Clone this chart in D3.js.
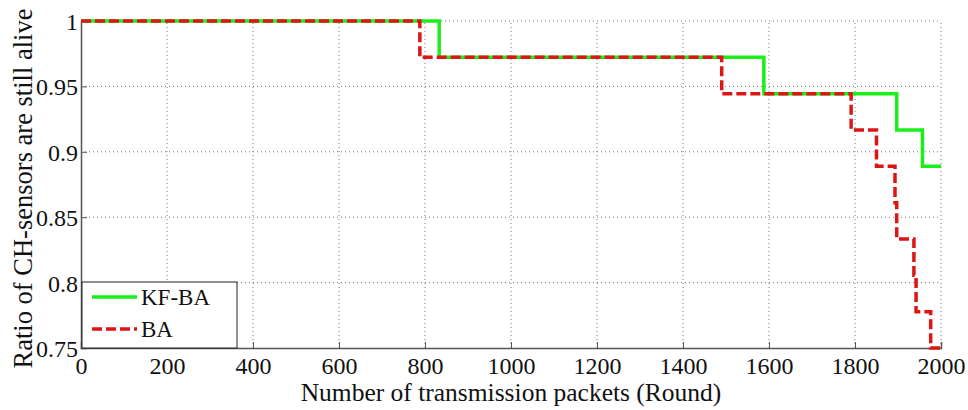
<!DOCTYPE html>
<html>
<head>
<meta charset="utf-8">
<script src="https://cdn.jsdelivr.net/npm/d3@7"></script>
<style>
	body { margin: 0; background: #fff; }
	svg { display: block; font-family: "Liberation Serif", "Times New Roman", serif; }
</style>
</head>
<body>
<svg id="chart"></svg>
<script>
// step changes: [round, ratio] (ratio = alive / 36)
const kfbaSteps = [ [0, 1], [833, 35/36], [1588, 34/36], [1897, 33/36], [1957, 32/36], [2000, 32/36] ] ;
const baSteps = [ [0, 1], [788, 35/36], [1490, 34/36], [1791, 33/36], [1850, 32/36], [1893, 31/36],
	[1897, 30/36], [1937, 29/36], [1942, 28/36], [1976, 27/36], [2000, 27/36] ] ;
const xTicks = [0, 200, 400, 600, 800, 1000, 1200, 1400, 1600, 1800, 2000] ;
const yTicks = [0.75, 0.8, 0.85, 0.9, 0.95, 1] ;
const seriesNames = ['KF-BA', 'BA'] ;

const geom = {
	width: 968,
	height: 410,
	margins: { left: 81, right: 27, top: 21, bottom: 62 }
} ;

const x = d3.scaleLinear()
	.domain([0, 2000])
	.range([geom.margins.left, geom.width - geom.margins.right]) ;
const y = d3.scaleLinear()
	.domain([0.75, 1])
	.range([geom.height - geom.margins.bottom, geom.margins.top]) ;

const svg = d3.select('#chart')
	.attr('width', geom.width)
	.attr('height', geom.height) ;

// grid
svg.selectAll('line.vgrid')
	.data(xTicks.slice(1))
	.enter()
	.append('line')
	.attr('class', 'vgrid')
	.attr('x1', d => x(d)).attr('x2', d => x(d))
	.attr('y1', y(0.75)).attr('y2', y(1))
	.attr('stroke', '#777')
	.attr('stroke-width', 1)
	.attr('stroke-dasharray', '1,3') ;

svg.selectAll('line.hgrid')
	.data(yTicks.slice(1))
	.enter()
	.append('line')
	.attr('class', 'hgrid')
	.attr('x1', x(0)).attr('x2', x(2000))
	.attr('y1', d => y(d)).attr('y2', d => y(d))
	.attr('stroke', '#777')
	.attr('stroke-width', 1)
	.attr('stroke-dasharray', '1,3') ;

// axes (ticks point inward)
const xAxis = svg.append('g')
	.attr('transform', 'translate(0,' + y(0.75) + ')')
	.call(d3.axisBottom(x).tickValues(xTicks).tickSize(-6).tickPadding(9).tickFormat(d3.format('d'))) ;
const yAxis = svg.append('g')
	.attr('transform', 'translate(' + x(0) + ',0)')
	.call(d3.axisLeft(y).tickValues(yTicks).tickSize(-6).tickPadding(3).tickFormat(d => String(d))) ;

[xAxis, yAxis].forEach(a => {
	a.select('.domain').attr('stroke', '#555').attr('stroke-width', 1.5) ;
	a.selectAll('.tick line').attr('stroke', '#555') ;
	a.selectAll('.tick text')
		.attr('fill', '#111')
		.attr('font-size', '24px')
		.attr('font-family', '"Liberation Serif", serif') ;
}) ;
xAxis.selectAll('.tick text').attr('dy', '0.72em') ;
yAxis.selectAll('.tick text').attr('dy', '0.35em') ;

// lines
const stepLine = d3.line()
	.x(d => x(d[0]))
	.y(d => y(d[1]))
	.curve(d3.curveStepAfter) ;

svg.append('path')
	.datum(kfbaSteps)
	.attr('fill', 'none')
	.attr('stroke', '#1aef1a')
	.attr('stroke-width', 3.5)
	.attr('d', stepLine) ;

svg.append('path')
	.datum(baSteps)
	.attr('fill', 'none')
	.attr('stroke', '#dc1515')
	.attr('stroke-width', 3.5)
	.attr('stroke-dasharray', '10,4')
	.attr('d', stepLine) ;

// legend
const legend = svg.append('g') ;
legend.append('rect')
	.attr('x', x(0) + 1)
	.attr('y', 282)
	.attr('width', 155)
	.attr('height', y(0.75) - 282)
	.attr('fill', '#fff')
	.attr('stroke', '#222')
	.attr('stroke-width', 1) ;

const legendColors = ['#1aef1a', '#dc1515'] ;
const legendDash = [null, '10,4'] ;
seriesNames.forEach((name, i) => {
	const ly = 297 + i * 32 ;
	legend.append('line')
		.attr('x1', 92).attr('x2', 137)
		.attr('y1', ly).attr('y2', ly)
		.attr('stroke', legendColors[i])
		.attr('stroke-width', 3.5)
		.attr('stroke-dasharray', legendDash[i]) ;
	legend.append('text')
		.attr('x', 141)
		.attr('y', ly)
		.attr('dy', '0.35em')
		.attr('font-size', '23px')
		.attr('fill', '#111')
		.text(name) ;
}) ;

// axis titles
svg.append('text')
	.attr('x', (x(0) + x(2000)) / 2)
	.attr('y', 401)
	.attr('text-anchor', 'middle')
	.attr('font-size', '25.5px')
	.attr('fill', '#111')
	.text('Number of transmission packets (Round)') ;

svg.append('text')
	.attr('transform', 'translate(32,' + ((y(0.75) + y(1)) / 2 + 4) + ') rotate(-90)')
	.attr('text-anchor', 'middle')
	.attr('font-size', '26.5px')
	.attr('fill', '#111')
	.text('Ratio of CH-sensors are still alive') ;
</script>
</body>
</html>
